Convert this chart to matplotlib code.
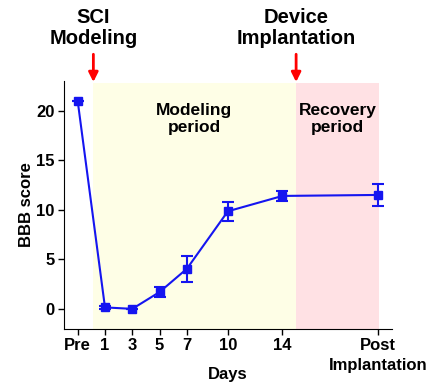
import matplotlib
matplotlib.use("Agg")
import matplotlib.pyplot as plt

plt.rcParams['font.family'] = ['Liberation Sans', 'DejaVu Sans']
plt.rcParams['font.weight'] = 'bold'

# Data
tick_labels = ["Pre", "1", "3", "5", "7", "10", "14", "Post\nImplantation"]
x_pos = [-1, 1, 3, 5, 7, 10, 14, 21]
bbb_mean = [21.0, 0.15, 0.0, 1.7, 4.05, 9.85, 11.4, 11.5]
bbb_err = [0.0, 0.15, 0.0, 0.5, 1.3, 0.95, 0.5, 1.15]

modeling_span = (0.1, 15.0)
recovery_span = (15.0, 21.1)
arrow_x = [0.15, 15.0]
arrow_labels = ["SCI\nModeling", "Device\nImplantation"]

fig = plt.figure(figsize=(4.34, 3.83), dpi=100)
ax = fig.add_axes([0.1475, 0.1418, 0.755, 0.6467])

ax.set_xlim(-2, 22)
ax.set_ylim(-2, 23)

shade_top = 22.75
ax.fill_between(modeling_span, -2, shade_top, color='#fefee6', lw=0, zorder=0)
ax.fill_between(recovery_span, -2, shade_top, color='#ffe1e4', lw=0, zorder=0)

ax.errorbar(x_pos, bbb_mean, yerr=bbb_err, color='#1515f0', marker='s',
            markersize=6, lw=1.5, capsize=4, elinewidth=1.5, capthick=1.5, zorder=3)

ax.set_xticks(x_pos)
ax.set_xticklabels(tick_labels, fontsize=12, fontweight='bold', linespacing=1.35)
ax.set_yticks([0, 5, 10, 15, 20])
ax.set_yticklabels(["0", "5", "10", "15", "20"], fontsize=12, fontweight='bold')
ax.tick_params(direction='out', length=4, width=1, pad=3)
for s in ['top', 'right']:
    ax.spines[s].set_visible(False)

ax.set_ylabel("BBB score", fontsize=12, fontweight='bold', labelpad=1)
ax.set_xlabel("Days", fontsize=12, fontweight='bold', labelpad=-4)

ax.text(sum(modeling_span) / 2, 20.8, "Modeling\nperiod", ha='center', va='top',
        fontsize=12.5, fontweight='bold', linespacing=1.2)
ax.text(sum(recovery_span) / 2, 20.8, "Recovery\nperiod", ha='center', va='top',
        fontsize=12.5, fontweight='bold', linespacing=1.2)

# annotations above the axes
for xa, label in zip(arrow_x, arrow_labels):
    ax.annotate("", xy=(xa, 22.9), xytext=(xa, 25.7),
                arrowprops=dict(arrowstyle='-|>', color='red', lw=2,
                                mutation_scale=14, shrinkA=0, shrinkB=0),
                annotation_clip=False)
    ax.text(xa, 26.3, label, ha='center', va='bottom', fontsize=14.5,
            fontweight='bold', linespacing=1.15, clip_on=False)

fig.savefig("out.png", dpi=100)
